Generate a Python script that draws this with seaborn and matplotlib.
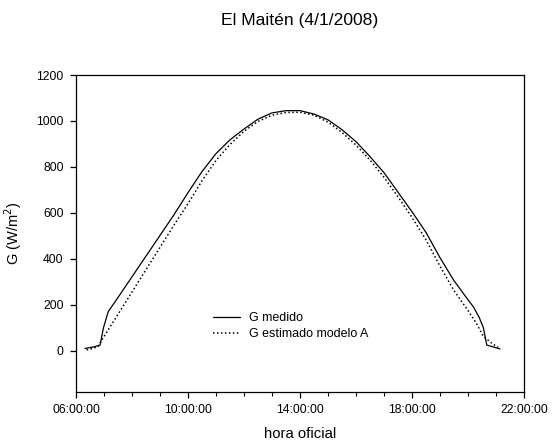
import matplotlib
matplotlib.use("Agg")
import matplotlib.pyplot as plt
from matplotlib.ticker import FixedLocator, FuncFormatter
import seaborn as sns
import pandas as pd

# hours (decimal) and irradiance values
hora_medido = [6.32, 6.5, 6.67, 6.86, 6.98, 7.15, 7.5, 8.0, 8.5, 9.0, 9.5, 10.0,
               10.5, 11.0, 11.5, 12.0, 12.5, 13.0, 13.5, 14.0, 14.5, 15.0, 15.5,
               16.0, 16.5, 17.0, 17.5, 18.0, 18.5, 19.0, 19.5, 20.0, 20.2, 20.4,
               20.55, 20.67, 21.14]
g_medido = [10, 14, 18, 25, 100, 170, 232, 322, 412, 502, 592, 688,
            780, 858, 918, 965, 1008, 1035, 1045, 1045, 1030, 1005, 962,
            910, 845, 775, 690, 605, 515, 405, 305, 222, 190, 145,
            100, 25, 8]

hora_estimado = [6.38, 6.6, 6.8, 6.92, 7.0, 7.5, 8.0, 8.5, 9.0, 9.5, 10.0,
                 10.5, 11.0, 11.5, 12.0, 12.5, 13.0, 13.5, 14.0, 14.5, 15.0,
                 15.5, 16.0, 16.5, 17.0, 17.5, 18.0, 18.5, 19.0, 19.5, 20.0,
                 20.3, 20.55, 20.73, 20.9, 21.08]
g_estimado = [4, 10, 20, 47, 62, 159, 256, 353, 450, 547, 640,
              740, 828, 898, 955, 998, 1025, 1037, 1038, 1025, 995,
              950, 895, 830, 755, 670, 580, 483, 368, 262, 175,
              120, 62, 45, 28, 15]

titulo = "El Maitén (4/1/2008)"
etiqueta_x = "hora oficial"
etiqueta_y = "G (W/m$^2$)"
serie_1 = "G medido"
serie_2 = "G estimado modelo A"
xticks = [6, 10, 14, 18, 22]
yticks = [0, 200, 400, 600, 800, 1000, 1200]

sns.set_style("ticks")
plt.rcParams['font.family'] = ['Liberation Sans', 'DejaVu Sans']
plt.rcParams['text.color'] = 'black'
plt.rcParams['axes.labelcolor'] = 'black'
plt.rcParams['xtick.color'] = 'black'
plt.rcParams['ytick.color'] = 'black'

df1 = pd.DataFrame({"hora": hora_medido, "G": g_medido})
df2 = pd.DataFrame({"hora": hora_estimado, "G": g_estimado})

fig = plt.figure(figsize=(5.52, 4.45), dpi=100)
ax = fig.add_axes([76/552, 1-391.7/445, 448/552, (391.7-75)/445])

sns.lineplot(data=df1, x="hora", y="G", ax=ax, color="black", lw=0.9,
             label=serie_1, sort=False)
sns.lineplot(data=df2, x="hora", y="G", ax=ax, color="black", lw=1.1,
             linestyle=(0, (1, 1.6)), label=serie_2, sort=False)

ax.set_xlim(6, 22)
ax.set_ylim(-178, 1200)
ax.xaxis.set_major_locator(FixedLocator(xticks))
ax.xaxis.set_minor_locator(FixedLocator(list(range(6, 23))))
ax.xaxis.set_major_formatter(FuncFormatter(lambda v, p: f"{int(round(v)):02d}:00:00"))
ax.yaxis.set_major_locator(FixedLocator(yticks))

for s in ax.spines.values():
    s.set_visible(True)
    s.set_color("black")
    s.set_linewidth(0.9)

ax.tick_params(axis="both", which="major", direction="out", length=4.5,
               width=0.9, labelsize=8.7, color="black", labelcolor="black", pad=4.5)
ax.tick_params(axis="x", which="minor", direction="out", length=3,
               width=0.8, color="black")

ax.set_xlabel(etiqueta_x, fontsize=10.7, labelpad=8, color="black")
ax.set_ylabel(etiqueta_y, fontsize=10.5, labelpad=9, color="black")
fig.text(0.5435, 1-20/445, titulo, ha="center", va="center", fontsize=12.6,
         color="black")

leg = ax.legend(loc="upper left", bbox_to_anchor=(0.305, 0.251), frameon=False,
                fontsize=9, handlelength=2.15, handletextpad=0.72,
                labelspacing=0.3, borderpad=0, borderaxespad=0)
for t in leg.get_texts():
    t.set_color("black")

fig.savefig("out.png", dpi=100)
